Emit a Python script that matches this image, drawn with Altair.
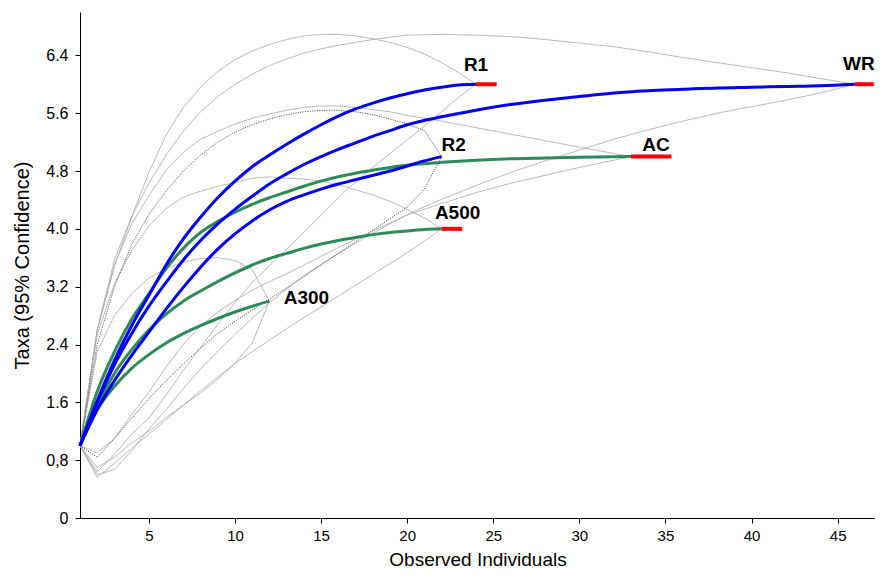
import altair as alt
import pandas as pd

# ---------------- data ----------------
r1_x = list(range(1, 25))
r1_mean = [1.0, 1.62, 2.18, 2.66, 3.08, 3.5, 3.86, 4.16, 4.43, 4.66, 4.86, 5.02,
           5.17, 5.31, 5.44, 5.56, 5.66, 5.74, 5.81, 5.87, 5.92, 5.96, 5.99, 6.0]
r1_upper = [1.0, 2.6, 3.48, 4.16, 4.78, 5.3, 5.68, 5.96, 6.18, 6.34, 6.46, 6.55,
            6.62, 6.67, 6.69, 6.69, 6.67, 6.63, 6.58, 6.51, 6.42, 6.3, 6.16, 6.0]
r1_lower = [1.0, 0.64, 0.88, 1.16, 1.38, 1.7, 2.04, 2.36, 2.68, 2.98, 3.26, 3.49,
            3.72, 3.95, 4.19, 4.43, 4.65, 4.85, 5.04, 5.23, 5.42, 5.62, 5.82, 6.0]

wr_x = [1, 2, 3, 4, 5, 6, 7, 8, 9, 10, 11, 12, 13, 14, 15, 16, 17, 18, 19, 20,
        22, 24, 26, 28, 30, 32, 34, 36, 38, 40, 42, 44, 46]
wr_mean = [1.0, 1.6, 2.12, 2.55, 2.93, 3.26, 3.57, 3.84, 4.07, 4.27, 4.45, 4.62,
           4.76, 4.89, 5.0, 5.1, 5.19, 5.28, 5.36, 5.44, 5.55, 5.64, 5.72, 5.78,
           5.83, 5.88, 5.91, 5.93, 5.95, 5.96, 5.97, 5.98, 6.0]
wr_upper = [1.0, 2.6, 3.57, 4.17, 4.63, 5.02, 5.35, 5.62, 5.83, 6.0, 6.14, 6.26,
            6.35, 6.43, 6.49, 6.54, 6.58, 6.62, 6.65, 6.68, 6.69, 6.68, 6.66, 6.62,
            6.57, 6.52, 6.45, 6.37, 6.3, 6.23, 6.16, 6.08, 6.0]
wr_lower = [1.0, 0.6, 0.67, 0.93, 1.23, 1.5, 1.79, 2.06, 2.31, 2.54, 2.76, 2.98,
            3.17, 3.35, 3.51, 3.66, 3.8, 3.94, 4.07, 4.2, 4.41, 4.6, 4.78, 4.94,
            5.09, 5.24, 5.37, 5.49, 5.6, 5.69, 5.78, 5.88, 6.0]

r2_x = list(range(1, 23))
r2_mean = [1.0, 1.5, 1.9, 2.25, 2.57, 2.89, 3.19, 3.47, 3.72, 3.93, 4.11, 4.26,
           4.38, 4.47, 4.55, 4.62, 4.68, 4.74, 4.8, 4.87, 4.94, 5.0]
r2_upper = [1.0, 2.4, 3.2, 3.78, 4.2, 4.52, 4.8, 5.02, 5.2, 5.34, 5.44, 5.52,
            5.58, 5.62, 5.64, 5.64, 5.62, 5.58, 5.52, 5.45, 5.36, 5.0]
r2_lower = [1.0, 0.84, 1.1, 1.38, 1.65, 1.9, 2.13, 2.35, 2.55, 2.72, 2.88, 3.03,
            3.18, 3.34, 3.5, 3.66, 3.82, 3.98, 4.14, 4.3, 4.55, 5.0]

ac_x = [1, 2, 3, 4, 5, 6, 7, 8, 9, 10, 11, 12, 13, 14, 15, 16, 17, 18, 19, 20,
        22, 24, 26, 28, 30, 33]
ac_mean = [1.0, 1.75, 2.3, 2.75, 3.1, 3.45, 3.73, 3.95, 4.1, 4.23, 4.34, 4.43,
           4.51, 4.59, 4.66, 4.72, 4.77, 4.81, 4.85, 4.88, 4.92, 4.95, 4.97, 4.98,
           4.99, 5.0]
ac_upper = [1.0, 2.6, 3.5, 4.07, 4.46, 4.81, 5.06, 5.24, 5.35, 5.45, 5.53, 5.59,
            5.64, 5.68, 5.7, 5.7, 5.68, 5.65, 5.62, 5.57, 5.49, 5.4, 5.31, 5.22,
            5.13, 5.0]
ac_lower = [1.0, 0.9, 1.1, 1.43, 1.74, 2.09, 2.4, 2.66, 2.85, 3.01, 3.15, 3.27,
            3.38, 3.5, 3.62, 3.74, 3.86, 3.97, 4.08, 4.19, 4.35, 4.5, 4.63, 4.74,
            4.85, 5.0]

a5_x = list(range(1, 23))
a5_mean = [1.0, 1.55, 2.0, 2.33, 2.6, 2.82, 3.0, 3.14, 3.27, 3.39, 3.5, 3.59,
           3.66, 3.73, 3.79, 3.84, 3.88, 3.92, 3.95, 3.97, 3.99, 4.0]
a5_upper = [1.0, 2.54, 3.24, 3.7, 4.04, 4.28, 4.44, 4.52, 4.59, 4.64, 4.7, 4.72,
            4.7, 4.69, 4.66, 4.61, 4.54, 4.47, 4.38, 4.27, 4.15, 4.0]
a5_lower = [1.0, 0.56, 0.76, 0.96, 1.16, 1.36, 1.56, 1.76, 1.95, 2.14, 2.3, 2.46,
            2.62, 2.77, 2.92, 3.07, 3.22, 3.37, 3.52, 3.67, 3.83, 4.0]

a3_x = list(range(1, 13))
a3_mean = [1.0, 1.5, 1.82, 2.07, 2.26, 2.42, 2.55, 2.66, 2.76, 2.85, 2.93, 3.0]
a3_upper = [1.0, 2.3, 2.8, 3.1, 3.32, 3.45, 3.54, 3.59, 3.6, 3.56, 3.44, 3.0]
a3_lower = [1.0, 0.7, 0.84, 1.04, 1.2, 1.39, 1.56, 1.73, 1.92, 2.14, 2.42, 3.0]

# red end markers
red_names = ["R1", "WR", "AC", "A500"]
red_x1 = [24, 46, 33, 22]
red_x2 = [25.2, 47.1, 35.35, 23.2]
red_y = [6.0, 6.0, 5.0, 4.0]

x_ticks = [5, 10, 15, 20, 25, 30, 35, 40, 45]
y_ticks = [0, 0.8, 1.6, 2.4, 3.2, 4.0, 4.8, 5.6, 6.4]

# ---------------- build tables ----------------
def frame(name, xs, ys, kind):
    return pd.DataFrame({"x": xs, "y": ys, "line": name + "-" + kind})

series = {
    "R1": (r1_x, r1_mean, r1_upper, r1_lower),
    "WR": (wr_x, wr_mean, wr_upper, wr_lower),
    "R2": (r2_x, r2_mean, r2_upper, r2_lower),
    "AC": (ac_x, ac_mean, ac_upper, ac_lower),
    "A500": (a5_x, a5_mean, a5_upper, a5_lower),
    "A300": (a3_x, a3_mean, a3_upper, a3_lower),
}

gray_parts, dark_parts, blue_parts, green_parts = [], [], [], []
for name, (xs, m, up, lo) in series.items():
    ci = [frame(name, xs, up, "up"), frame(name, xs, lo, "lo")]
    if name == "R2":
        dark_parts += ci
    else:
        gray_parts += ci
    if name in ("R1", "WR", "R2"):
        blue_parts.append(frame(name, xs, m, "mean"))
    else:
        green_parts.append(frame(name, xs, m, "mean"))

gray_df = pd.concat(gray_parts, ignore_index=True)
dark_df = pd.concat(dark_parts, ignore_index=True)
blue_df = pd.concat(blue_parts, ignore_index=True)
green_df = pd.concat(green_parts, ignore_index=True)
red_df = pd.DataFrame({"name": red_names, "x1": red_x1, "x2": red_x2, "y": red_y})

end_x = {n: s[0][-1] for n, s in series.items()}
end_y = {n: s[1][-1] for n, s in series.items()}

# ---------------- scales / axes ----------------
FONT = "Liberation Sans, Arial, sans-serif"
NARROW = "Liberation Sans Narrow, Arial Narrow, Liberation Sans, Arial, sans-serif"

xscale = alt.Scale(domain=[1, 47.17], nice=False, zero=False)
yscale = alt.Scale(domain=[0, 7.0], nice=False, zero=True)

xaxis = alt.Axis(values=x_ticks, title="Observed Individuals", grid=False,
                 tickSize=5, tickColor="#000", domainColor="#000",
                 labelFont=NARROW, labelFontSize=15, labelColor="#000",
                 labelPadding=5, titleFont=NARROW, titleFontSize=19,
                 titleFontWeight="normal", titleColor="#000", titlePadding=7)
yaxis = alt.Axis(values=y_ticks, title="Taxa (95% Confidence)", grid=False,
                 tickSize=5, tickColor="#000", domainColor="#000",
                 labelFont=FONT, labelFontSize=16, labelColor="#000",
                 labelPadding=7,
                 labelExpr="datum.value == 0 ? '0' : (abs(datum.value - 0.8) < 0.001 ? '0,8' : format(datum.value, '.1f'))",
                 titleFont=FONT, titleFontSize=20, titleFontWeight="normal",
                 titleColor="#000", titlePadding=13)

X = alt.X("x:Q", scale=xscale, axis=xaxis)
Y = alt.Y("y:Q", scale=yscale, axis=yaxis)
Xn = alt.X("x:Q", scale=xscale)
Yn = alt.Y("y:Q", scale=yscale)

gray = alt.Chart(gray_df).mark_line(color="#a8a8a8", strokeWidth=0.8).encode(
    x=X, y=Y, detail="line:N", order="x:Q")
dark = alt.Chart(dark_df).mark_line(color="#4a4a4a", strokeWidth=0.9,
                                    strokeDash=[1.2, 1.2]).encode(
    x=Xn, y=Yn, detail="line:N", order="x:Q")
blue = alt.Chart(blue_df).mark_line(color="#0000f0", strokeWidth=3,
                                    interpolate="monotone").encode(
    x=Xn, y=Yn, detail="line:N", order="x:Q")
green = alt.Chart(green_df).mark_line(color="#2e8b57", strokeWidth=3,
                                      interpolate="monotone").encode(
    x=Xn, y=Yn, detail="line:N", order="x:Q")
red = alt.Chart(red_df).mark_rule(color="#ff0000", strokeWidth=4).encode(
    x=alt.X("x1:Q", scale=xscale), x2="x2:Q", y=alt.Y("y:Q", scale=yscale))

label_offsets = {"R1": (0, -19), "WR": (4, -20), "R2": (12, -12),
                 "AC": (25, -12), "A500": (16, -16), "A300": (37, -3)}
labels = []
for name, (dx, dy) in label_offsets.items():
    ldf = pd.DataFrame({"x": [end_x[name]], "y": [end_y[name]], "t": [name]})
    labels.append(
        alt.Chart(ldf).mark_text(font=FONT, fontSize=19, fontWeight="bold",
                                 color="#000", dx=dx, dy=dy, align="center",
                                 baseline="middle").encode(x=Xn, y=Yn, text="t:N"))

chart = alt.layer(gray, dark, green, blue, red, *labels).properties(
    width=795, height=506,
    padding={"left": 72, "top": 4, "right": 0, "bottom": 55},
    autosize=alt.AutoSizeParams(type="none"),
).configure_view(stroke=None)

chart.save("out.html", embed_options={"renderer": "svg", "actions": False})
